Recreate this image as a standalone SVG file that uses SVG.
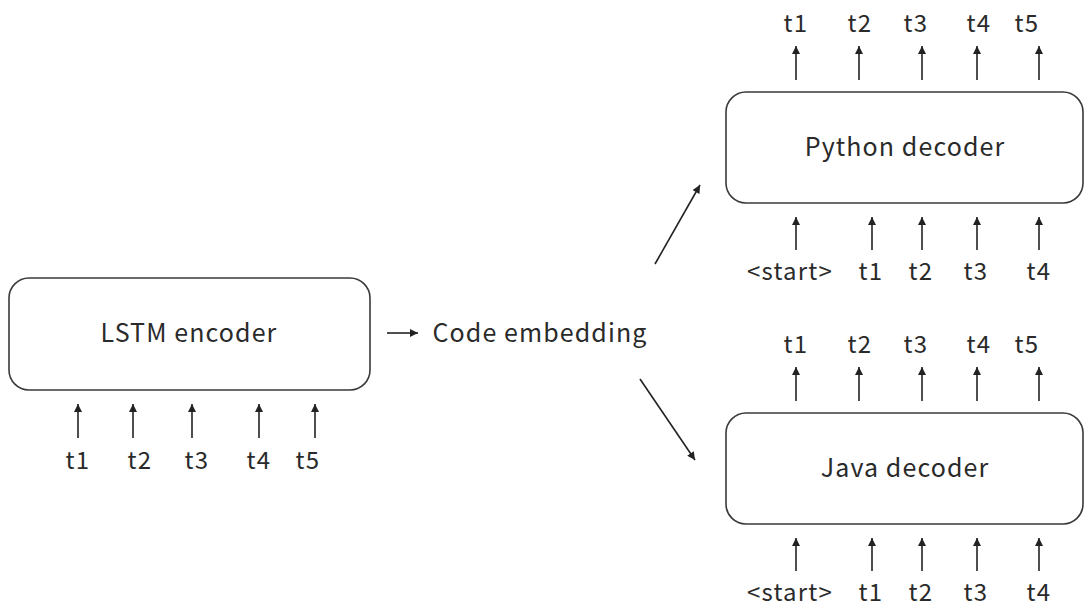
<svg xmlns="http://www.w3.org/2000/svg" width="1084" height="608" viewBox="0 0 1084 608">
  <style>
    .box { fill: #ffffff; stroke: #3a3a3a; stroke-width: 1.6; }
    .title { font-family: "Noto Sans CJK JP", "Noto Sans", sans-serif; font-size: 25px; fill: #2a2a2a; text-anchor: middle; letter-spacing: 1.1px; }
    .lbl { font-family: "Noto Sans CJK JP", "Noto Sans", sans-serif; font-size: 24px; fill: #2a2a2a; text-anchor: middle; letter-spacing: 1.2px; }
    .arr { stroke: #222; stroke-width: 1.6; fill: none; marker-end: url(#head); }
  </style>
  <defs>
    <marker id="head" viewBox="0 0 10 10" refX="10" refY="5" markerWidth="10" markerHeight="8" markerUnits="userSpaceOnUse" orient="auto">
      <path d="M0,0 L10,5 L0,10 z" fill="#222"/>
    </marker>
  </defs>
  <rect width="1084" height="608" fill="#ffffff"/>

  <!-- encoder -->
  <g id="encoder">
    <rect class="box" x="9" y="278" width="361" height="112" rx="20"/>
    <text class="title" x="189" y="342">LSTM encoder</text>
    <text class="lbl" x="78" y="469">t1</text>
    <text class="lbl" x="140" y="469">t2</text>
    <text class="lbl" x="197" y="469">t3</text>
    <text class="lbl" x="259" y="469">t4</text>
    <text class="lbl" x="308" y="469">t5</text>
  </g>

  <!-- shared embedding -->
  <g id="embedding">
    <text class="title" x="540" y="342">Code embedding</text>
  </g>

  <!-- python decoder -->
  <g id="python-decoder">
    <rect class="box" x="726" y="92" width="357" height="111" rx="20"/>
    <text class="title" x="905" y="156">Python decoder</text>
    <text class="lbl" x="796" y="32">t1</text>
    <text class="lbl" x="860" y="32">t2</text>
    <text class="lbl" x="916" y="32">t3</text>
    <text class="lbl" x="979" y="32">t4</text>
    <text class="lbl" x="1027" y="32">t5</text>
    <text class="lbl" x="790" y="280">&lt;start&gt;</text>
    <text class="lbl" x="871" y="280">t1</text>
    <text class="lbl" x="921" y="280">t2</text>
    <text class="lbl" x="976" y="280">t3</text>
    <text class="lbl" x="1039" y="280">t4</text>
  </g>

  <!-- java decoder -->
  <g id="java-decoder">
    <rect class="box" x="726" y="413" width="357" height="111" rx="20"/>
    <text class="title" x="905" y="477">Java decoder</text>
    <text class="lbl" x="796" y="353">t1</text>
    <text class="lbl" x="860" y="353">t2</text>
    <text class="lbl" x="916" y="353">t3</text>
    <text class="lbl" x="979" y="353">t4</text>
    <text class="lbl" x="1027" y="353">t5</text>
    <text class="lbl" x="790" y="601">&lt;start&gt;</text>
    <text class="lbl" x="871" y="601">t1</text>
    <text class="lbl" x="921" y="601">t2</text>
    <text class="lbl" x="976" y="601">t3</text>
    <text class="lbl" x="1039" y="601">t4</text>
  </g>

  <!-- connectors -->
  <g id="connectors">
    <!-- encoder inputs -->
    <line class="arr" x1="78" y1="438" x2="78" y2="404"/>
    <line class="arr" x1="133" y1="438" x2="133" y2="404"/>
    <line class="arr" x1="192" y1="438" x2="192" y2="404"/>
    <line class="arr" x1="259" y1="438" x2="259" y2="404"/>
    <line class="arr" x1="315" y1="438" x2="315" y2="404"/>
    <!-- encoder to embedding -->
    <line class="arr" x1="387" y1="333" x2="418" y2="333"/>
    <!-- embedding to decoders -->
    <line class="arr" x1="655" y1="264" x2="700" y2="185"/>
    <line class="arr" x1="640" y1="379" x2="695" y2="460"/>
    <!-- python outputs -->
    <line class="arr" x1="796" y1="80" x2="796" y2="46"/>
    <line class="arr" x1="859" y1="80" x2="859" y2="46"/>
    <line class="arr" x1="922" y1="80" x2="922" y2="46"/>
    <line class="arr" x1="977" y1="80" x2="977" y2="46"/>
    <line class="arr" x1="1039" y1="80" x2="1039" y2="46"/>
    <!-- python inputs -->
    <line class="arr" x1="796" y1="250" x2="796" y2="217"/>
    <line class="arr" x1="872" y1="250" x2="872" y2="217"/>
    <line class="arr" x1="922" y1="250" x2="922" y2="217"/>
    <line class="arr" x1="977" y1="250" x2="977" y2="217"/>
    <line class="arr" x1="1039" y1="250" x2="1039" y2="217"/>
    <!-- java outputs -->
    <line class="arr" x1="796" y1="401" x2="796" y2="367"/>
    <line class="arr" x1="859" y1="401" x2="859" y2="367"/>
    <line class="arr" x1="922" y1="401" x2="922" y2="367"/>
    <line class="arr" x1="977" y1="401" x2="977" y2="367"/>
    <line class="arr" x1="1039" y1="401" x2="1039" y2="367"/>
    <!-- java inputs -->
    <line class="arr" x1="796" y1="571" x2="796" y2="538"/>
    <line class="arr" x1="872" y1="571" x2="872" y2="538"/>
    <line class="arr" x1="922" y1="571" x2="922" y2="538"/>
    <line class="arr" x1="977" y1="571" x2="977" y2="538"/>
    <line class="arr" x1="1039" y1="571" x2="1039" y2="538"/>
  </g>
</svg>
